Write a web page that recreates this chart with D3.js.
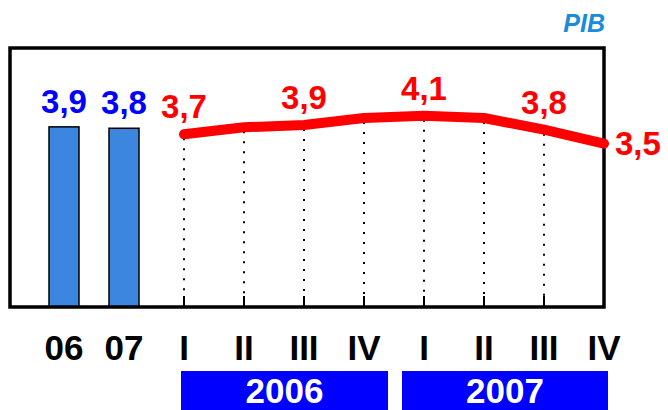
<!DOCTYPE html>
<html>
<head>
<meta charset="utf-8">
<script src="https://cdn.jsdelivr.net/npm/d3@7"></script>
<style>
    body { margin: 0; background: #ffffff; }
    svg { display: block; font-family: "Liberation Sans", Arial, sans-serif; font-weight: bold; }
</style>
</head>
<body>
<div id="chart"></div>
<script>
// annual bars
const years = ["06", "07"];
const yearValues = [3.86, 3.83];

// quarterly line
const quarters = ["I", "II", "III", "IV", "I ", "II ", "III ", "IV "];
const quarterValues = [3.7, 3.85, 3.9, 4.05, 4.1, 4.05, 3.8, 3.5];
const labelledQuarters = [0, 2, 4, 6];

const yearGroups = ["2006", "2007"];
const title = "PIB";

const width = 668;
const height = 410;
const frame = {left: 10, right: 604, top: 48, bottom: 307};

const comma = v => d3.format(".1f")(v).replace(".", ",");

const svg = d3.select("#chart")
    .append("svg")
    .attr("width", width)
    .attr("height", height);

const xScale = d3.scalePoint()
    .domain(years.concat(quarters))
    .range([64, 604]);

const yScale = d3.scaleLinear()
    .domain([0, 5.55])
    .range([frame.bottom, frame.top]);

// title
svg.append("text")
    .attr("x", frame.right + 1)
    .attr("y", 32)
    .attr("text-anchor", "end")
    .attr("font-size", 25)
    .attr("font-style", "italic")
    .attr("fill", "#1a8cd8")
    .text(title);

// dotted guides down from each quarter point
quarters.forEach(function(q, i) {
    svg.append("line")
        .attr("x1", xScale(q))
        .attr("x2", xScale(q))
        .attr("y1", yScale(quarterValues[i]) + 4)
        .attr("y2", frame.bottom - 10)
        .attr("stroke", "#000")
        .attr("stroke-width", 2)
        .attr("stroke-dasharray", "2,8");

    svg.append("line")
        .attr("x1", xScale(q))
        .attr("x2", xScale(q))
        .attr("y1", frame.bottom - 11)
        .attr("y2", frame.bottom)
        .attr("stroke", "#000")
        .attr("stroke-width", 2);
});

// bars
svg.selectAll("rect.bar")
    .data(years)
    .enter()
    .append("rect")
        .attr("class", "bar")
        .attr("x", d => xScale(d) - 15)
        .attr("y", (d, i) => yScale(yearValues[i]))
        .attr("width", 30)
        .attr("height", (d, i) => frame.bottom - yScale(yearValues[i]))
        .attr("fill", "#3d86e0")
        .attr("stroke", "#000")
        .attr("stroke-width", 1.5);

svg.selectAll("text.barLabel")
    .data(years)
    .enter()
    .append("text")
        .attr("class", "barLabel")
        .attr("x", d => xScale(d))
        .attr("y", (d, i) => yScale(yearValues[i]) - 14)
        .attr("text-anchor", "middle")
        .attr("font-size", 33)
        .attr("fill", "#0000ff")
        .text((d, i) => comma(yearValues[i]));

// frame
svg.append("rect")
    .attr("x", frame.left)
    .attr("y", frame.top)
    .attr("width", frame.right - frame.left)
    .attr("height", frame.bottom - frame.top)
    .attr("fill", "none")
    .attr("stroke", "#000")
    .attr("stroke-width", 3.5);

// line
const line = d3.line()
    .x((d, i) => xScale(quarters[i]))
    .y(d => yScale(d));

svg.append("path")
    .datum(quarterValues)
    .attr("d", line)
    .attr("fill", "none")
    .attr("stroke", "#ff0000")
    .attr("stroke-width", 10)
    .attr("stroke-linecap", "round")
    .attr("stroke-linejoin", "round");

labelledQuarters.forEach(function(i) {
    svg.append("text")
        .attr("x", xScale(quarters[i]))
        .attr("y", yScale(quarterValues[i]) - 16)
        .attr("text-anchor", "middle")
        .attr("font-size", 33)
        .attr("fill", "#ff0000")
        .text(comma(quarterValues[i]));
});

const last = quarters.length - 1;
svg.append("text")
    .attr("x", xScale(quarters[last]) + 11)
    .attr("y", yScale(quarterValues[last]) + 11)
    .attr("font-size", 33)
    .attr("fill", "#ff0000")
    .text(comma(quarterValues[last]));

// category labels
svg.selectAll("text.cat")
    .data(xScale.domain())
    .enter()
    .append("text")
        .attr("class", "cat")
        .attr("x", d => xScale(d))
        .attr("y", 360)
        .attr("text-anchor", "middle")
        .attr("font-size", 35)
        .attr("fill", "#000")
        .text(d => d.trim());

// year boxes under the quarters
const mid = (xScale(quarters[3]) + xScale(quarters[4])) / 2;
const boxes = [
    {x0: xScale(quarters[0]) - 3, x1: mid - 6},
    {x0: mid + 8, x1: xScale(quarters[last]) + 4}
];

yearGroups.forEach(function(y, i) {
    svg.append("rect")
        .attr("x", boxes[i].x0)
        .attr("y", 371)
        .attr("width", boxes[i].x1 - boxes[i].x0)
        .attr("height", height - 371)
        .attr("fill", "#0000ff");

    svg.append("text")
        .attr("x", (boxes[i].x0 + boxes[i].x1) / 2)
        .attr("y", 403)
        .attr("text-anchor", "middle")
        .attr("font-size", 35)
        .attr("fill", "#fff")
        .text(y);
});
</script>
</body>
</html>
